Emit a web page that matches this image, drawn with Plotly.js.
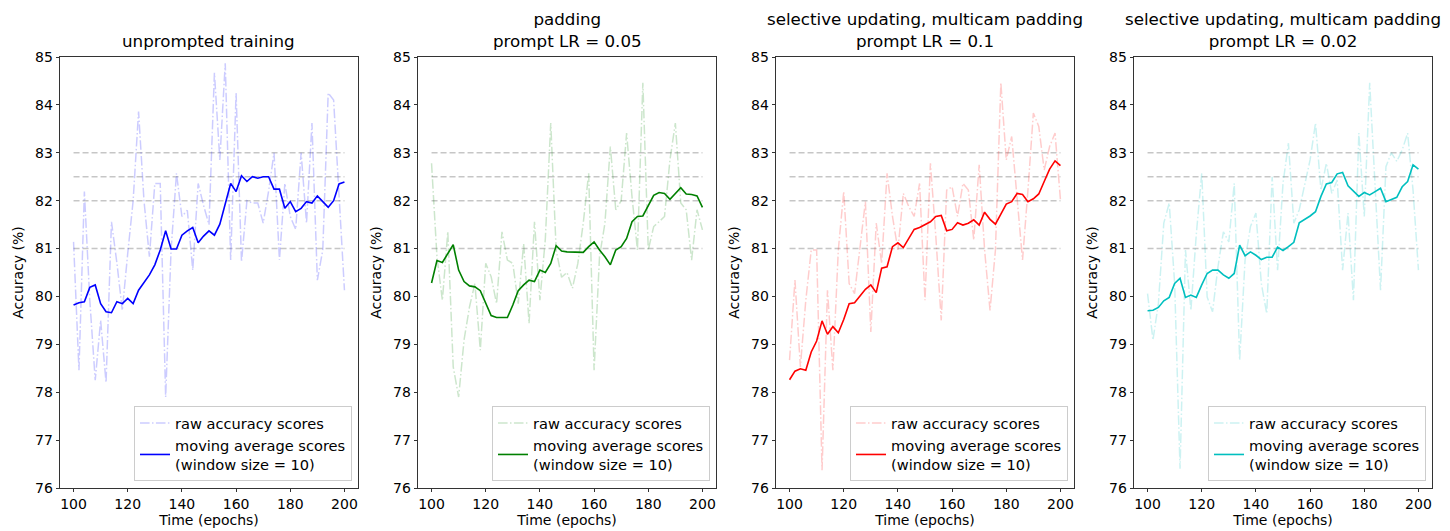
<!DOCTYPE html>
<html>
<head>
<meta charset="utf-8">
<script src="https://cdn.plot.ly/plotly-3.0.1.min.js"></script>
<style>html,body{margin:0;padding:0;background:#fff}#chart{width:1450px;height:531px}</style>
</head>
<body>
<div id="chart"></div>
<script>
// ---- data ----
const epochs = [100,102,104,106,108,110,112,114,116,118,120,122,124,126,128,130,132,134,136,138,140,142,144,146,148,150,152,154,156,158,160,162,164,166,168,170,172,174,176,178,180,182,184,186,188,190,192,194,196,198,200];

const panelTitles = [
  "unprompted training",
  "padding<br>prompt LR = 0.05",
  "selective updating, multicam padding<br>prompt LR = 0.1",
  "selective updating, multicam padding<br>prompt LR = 0.02"
];

const rawUnprompted = [81.14,78.46,82.19,79.92,78.25,79.5,78.2,81.56,80.7,79.71,
  80.9,82.0,83.86,82.0,80.83,82.36,82.36,77.9,80.97,82.57,
  81.67,81.8,80.55,82.36,81.9,81.5,84.67,82.85,84.87,80.76,
  84.25,80.72,82.0,81.95,81.95,81.53,82.2,83.0,80.76,82.36,
  81.67,81.4,83.0,81.53,83.62,80.34,80.97,84.25,84.1,82.2,80.13];
const maUnprompted = [79.82,79.87,79.89,80.19,80.24,79.85,79.68,79.66,79.89,79.85,
  79.96,79.85,80.13,80.29,80.45,80.66,80.97,81.37,80.99,80.99,
  81.28,81.37,81.44,81.12,81.26,81.37,81.28,81.51,81.95,82.36,
  82.19,82.52,82.40,82.50,82.47,82.50,82.50,82.24,82.24,81.84,
  81.98,81.77,81.84,81.98,81.95,82.10,81.98,81.86,82.0,82.35,82.39];

const rawPadding = [82.78,80.83,79.92,81.35,78.53,77.9,79.09,79.78,80.27,78.88,
  80.69,80.41,79.85,81.35,80.76,80.69,79.85,81.1,79.44,81.56,
  79.92,81.2,83.62,80.97,80.4,80.5,80.17,80.69,81.53,82.57,
  78.46,80.83,81.53,83.13,81.81,82.0,83.41,82.08,80.97,84.46,
  80.97,81.46,81.56,81.67,82.85,83.62,81.95,81.81,80.76,81.81,81.39];
const maPadding = [80.28,80.75,80.71,80.89,81.08,80.55,80.31,80.22,80.2,80.12,
  79.85,79.6,79.56,79.56,79.56,79.82,80.12,80.24,80.34,80.31,
  80.55,80.5,80.69,81.06,80.95,80.93,80.93,80.92,80.92,81.04,
  81.14,80.97,80.83,80.66,80.97,81.04,81.21,81.56,81.67,81.68,
  81.88,82.11,82.17,82.15,82.03,82.14,82.27,82.14,82.13,82.1,81.86];

const rawSelective01 = [78.67,80.34,78.53,79.92,80.97,80.97,76.37,80.13,78.46,80.97,
  82.19,80.27,80.06,80.97,81.98,79.26,81.53,80.69,82.57,81.67,
  80.97,82.15,81.88,81.67,82.36,79.92,82.78,81.25,79.5,82.22,
  82.29,81.67,82.36,82.22,81.18,82.75,80.97,79.71,80.97,84.46,
  82.85,83.34,82.02,80.76,82.22,83.83,83.55,82.64,83.13,83.41,82.02];
const maSelective01 = [78.26,78.44,78.49,78.46,78.84,79.07,79.49,79.21,79.37,79.24,
  79.52,79.85,79.87,80.01,80.15,80.24,80.08,80.59,80.62,81.04,
  81.12,81.02,81.21,81.4,81.44,81.5,81.56,81.67,81.69,81.37,
  81.4,81.54,81.49,81.53,81.6,81.49,81.76,81.61,81.51,81.72,
  81.93,81.98,82.15,82.13,81.98,82.04,82.14,82.4,82.66,82.83,82.73];

const rawSelective002 = [80.06,79.09,79.85,81.53,81.95,80.27,76.4,80.97,79.71,81.3,
  82.57,79.99,79.68,80.62,81.35,81.14,82.36,78.67,80.76,81.46,
  81.74,80.27,79.64,82.5,80.55,82.36,83.2,81.53,81.81,82.36,
  82.85,83.62,82.22,82.78,82.15,82.43,80.55,81.74,79.92,83.41,
  81.67,84.46,82.22,80.13,82.71,83.0,82.82,83.06,83.41,82.22,80.55];
const maSelective002 = [79.7,79.71,79.77,79.91,79.98,80.27,80.38,79.98,80.03,79.98,
  80.24,80.48,80.55,80.55,80.45,80.38,80.48,81.07,80.85,80.93,
  80.86,80.77,80.82,80.82,81.03,80.96,81.04,81.13,81.54,81.61,
  81.68,81.77,82.09,82.35,82.38,82.56,82.59,82.31,82.2,82.09,
  82.17,82.12,82.19,82.26,81.98,82.02,82.07,82.29,82.4,82.75,82.66];

const refLevels = [81, 82, 82.5, 83];
const xTicks = [100, 120, 140, 160, 180, 200];
const yTicks = [76, 77, 78, 79, 80, 81, 82, 83, 84, 85];
const rawLabel = "raw accuracy scores";
const maLabel = "moving average scores<br>(window size = 10)";

// ---- styling ----
const panels = [
  {raw: rawUnprompted, ma: maUnprompted, color: "#0000ff", light: "rgba(0,0,255,0.2)"},
  {raw: rawPadding, ma: maPadding, color: "#008000", light: "rgba(0,128,0,0.2)"},
  {raw: rawSelective01, ma: maSelective01, color: "#ff0000", light: "rgba(255,0,0,0.2)"},
  {raw: rawSelective002, ma: maSelective002, color: "#00bfbf", light: "rgba(0,191,191,0.2)"}
];
const W = 1450, H = 531;
const axLeftPx = [60, 418, 776, 1134];
const axWidthPx = 298;
const yDom = [(H - 488) / H, (H - 57) / H];
const FONT = "DejaVu Sans, Liberation Sans, sans-serif";

const traces = [];
const layout = {
  width: W, height: H,
  margin: {l: 0, r: 0, t: 0, b: 0},
  paper_bgcolor: "#fff", plot_bgcolor: "#fff",
  font: {family: FONT, size: 14, color: "#000"},
  annotations: [],
  showlegend: true
};

panels.forEach((p, k) => {
  const n = k + 1;
  const xa = "x" + (n === 1 ? "" : n), ya = "y" + (n === 1 ? "" : n);
  const legName = "legend" + (n === 1 ? "" : n);
  const x0 = axLeftPx[k] / W, x1 = (axLeftPx[k] + axWidthPx) / W;

  refLevels.forEach(lv => {
    traces.push({
      x: [epochs[0], epochs[epochs.length - 1]], y: [lv, lv],
      xaxis: xa, yaxis: ya, mode: "lines", showlegend: false, hoverinfo: "skip",
      line: {color: "rgba(128,128,128,0.45)", width: 1.5, dash: "6px,3px"}
    });
  });
  traces.push({
    x: epochs, y: p.raw, xaxis: xa, yaxis: ya, mode: "lines", name: rawLabel,
    legend: legName,
    line: {color: p.light, width: 1.5, dash: "9.6px,2.4px,1.5px,2.4px"}
  });
  traces.push({
    x: epochs, y: p.ma, xaxis: xa, yaxis: ya, mode: "lines", name: maLabel,
    legend: legName,
    line: {color: p.color, width: 1.6}
  });

  const axCommon = {
    ticks: "outside", ticklen: 3.5, tickwidth: 0.8, tickcolor: "#000",
    showline: true, mirror: true, linecolor: "#000", linewidth: 0.8,
    showgrid: false, zeroline: false,
    tickfont: {family: FONT, size: 14, color: "#000"}
  };
  layout["xaxis" + (n === 1 ? "" : n)] = Object.assign({}, axCommon, {
    domain: [x0, x1], range: [95, 205], anchor: ya,
    tickmode: "array", tickvals: xTicks,
    title: {text: "Time (epochs)", font: {family: FONT, size: 14, color: "#000"}, standoff: 3},
    automargin: false
  });
  layout["yaxis" + (n === 1 ? "" : n)] = Object.assign({}, axCommon, {
    domain: yDom, range: [76, 85], anchor: xa,
    tickmode: "array", tickvals: yTicks,
    title: {text: "Accuracy (%)", font: {family: FONT, size: 14, color: "#000"}, standoff: 8},
    automargin: false
  });
  layout[legName] = {
    x: x1 - 6 / W, xanchor: "right", y: yDom[0] + 7 / H, yanchor: "bottom",
    bgcolor: "rgba(255,255,255,0.8)", bordercolor: "#cccccc", borderwidth: 1,
    font: {family: FONT, size: 14.6, color: "#000"},
    tracegroupgap: 0, itemwidth: 30
  };
  layout.annotations.push({
    xref: "paper", yref: "paper", x: (x0 + x1) / 2, y: yDom[1],
    xanchor: "center", yanchor: "bottom", yshift: 4, showarrow: false,
    text: panelTitles[k], font: {family: FONT, size: 16.7, color: "#000"}
  });
});

Plotly.newPlot("chart", traces, layout, {displayModeBar: false, staticPlot: true});
</script>
</body>
</html>
